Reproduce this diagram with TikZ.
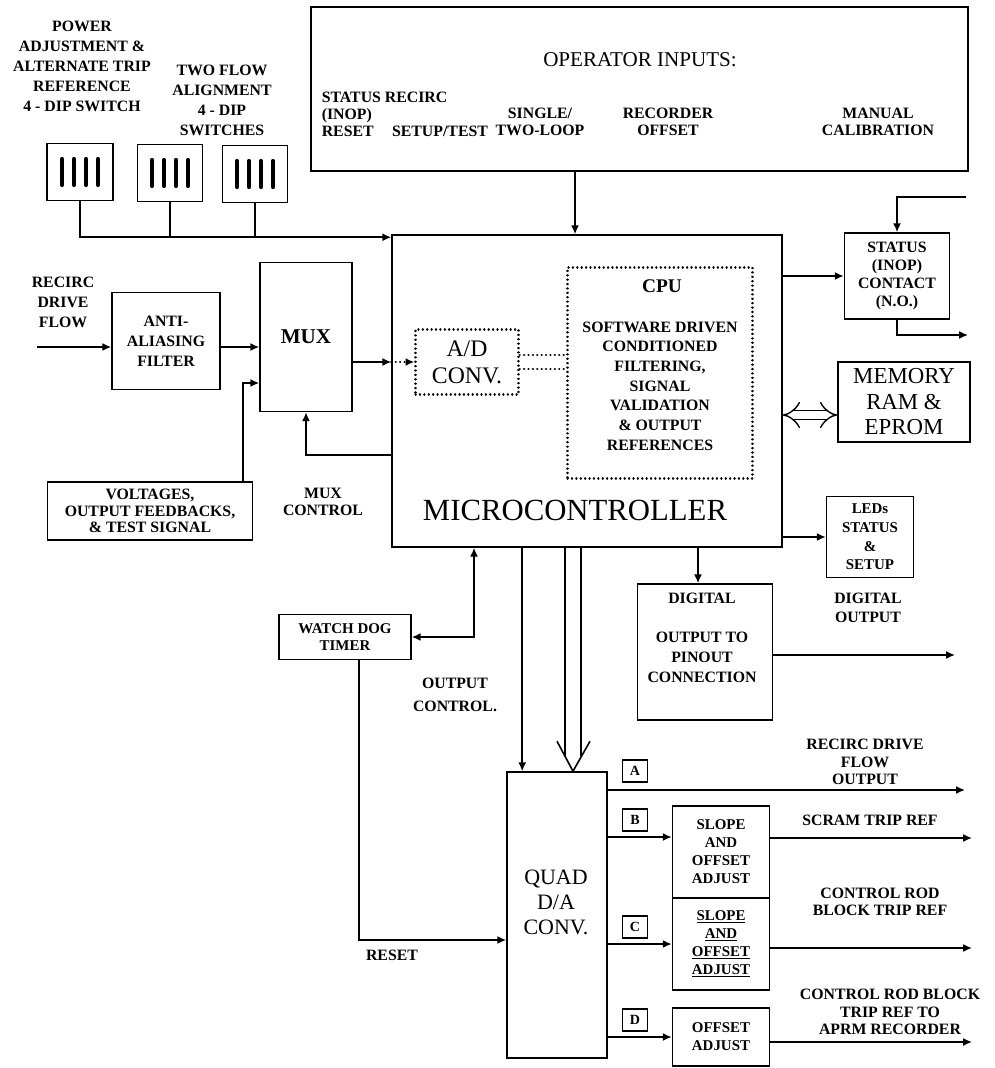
\documentclass[tikz,border=0pt]{standalone}
\usepackage{fontspec}
\setmainfont{Liberation Serif}
\usetikzlibrary{arrows.meta}

\begin{document}
\begin{tikzpicture}[
        x=.02cm, y=-.02cm,
        line width=.9pt,
        >={Latex[length=5pt, width=4.5pt]},
        box/.style={draw, line width=.9pt, inner sep=0pt, align=center},
        dotbox/.style={draw, line width=1.3pt, dash pattern=on .1pt off 2.4pt, line cap=round, inner sep=0pt, align=center},
        dotl/.style={line width=1.3pt, dash pattern=on .1pt off 2.4pt, line cap=round},
        lbl/.style={font=\fontsize{9}{11.4}\selectfont\bfseries, align=center, inner sep=0pt},
        big/.style={font=\fontsize{13}{14.5}\selectfont, align=center, inner sep=0pt},
        tag/.style={draw, line width=.9pt, minimum width=.5cm, minimum height=.44cm, inner sep=0pt, font=\fontsize{8}{9}\selectfont\bfseries},
        membus/.style={double, double distance=4.5pt, line width=.8pt, Implies-Implies},
    ]
    \useasboundingbox (0,0) rectangle (994,1068);

    %% dip switches and their labels
    \node[lbl] (pwrlbl) at (82,66) {POWER\\ADJUSTMENT \&\\ALTERNATE TRIP\\REFERENCE\\4 - DIP SWITCH};
    \node[lbl] (flowlbl) at (222,100) {TWO FLOW\\ALIGNMENT\\4 - DIP\\SWITCHES};
    \node[box, minimum width=1.32cm, minimum height=1.14cm] (dipa) at (80,172) {};
    \node[box, minimum width=1.3cm, minimum height=1.14cm] (dipb) at (170,173) {};
    \node[box, minimum width=1.3cm, minimum height=1.14cm] (dipc) at (255,174) {};
    \foreach \d in {dipa,dipb,dipc}{
        \foreach \k in {-1.5,-.5,.5,1.5}{
            \draw[line width=2.4pt, line cap=round] ([shift={(\k*.24cm,.26cm)}]\d.center) -- ++(0,-.52cm);
        }
    }

    %% operator inputs
    \node[box, minimum width=13.14cm, minimum height=3.28cm] (opin) at (639.5,89) {};
    \node[font=\fontsize{12}{14}\selectfont, inner sep=0pt] (optitle) at (640,60) {OPERATOR INPUTS:};
    \node[lbl, align=left, anchor=west, font=\fontsize{9}{9.7}\selectfont\bfseries] (opstat) at (321,114) {STATUS RECIRC\\(INOP)\\RESET};
    \node[lbl] (optest) at (440,131) {SETUP/TEST};
    \node[lbl, font=\fontsize{9}{9.7}\selectfont\bfseries] (oploop) at (540,122) {SINGLE/\\TWO-LOOP};
    \node[lbl, font=\fontsize{9}{9.7}\selectfont\bfseries] (oprec) at (668,122) {RECORDER\\OFFSET};
    \node[lbl, font=\fontsize{9}{9.7}\selectfont\bfseries] (opman) at (878,122) {MANUAL\\CALIBRATION};

    %% microcontroller with cpu and a/d
    \node[box, minimum width=7.8cm, minimum height=6.24cm] (mc) at (587,391) {};
    \node[font=\fontsize{17.5}{20}\selectfont, inner sep=0pt] (mclbl) at (575,510) {MICROCONTROLLER};
    \node[dotbox, minimum width=3.7cm, minimum height=4.22cm] (cpu) at (660,373) {};
    \node[font=\fontsize{11}{13}\selectfont\bfseries, inner sep=0pt] (cpulbl) at (662,286) {CPU};
    \node[lbl, font=\fontsize{9}{11.2}\selectfont\bfseries] (cpusw) at (660,386) {SOFTWARE DRIVEN\\CONDITIONED\\FILTERING,\\SIGNAL\\VALIDATION\\\& OUTPUT\\REFERENCES};
    \node[dotbox, big, font=\fontsize{13.5}{15.3}\selectfont, minimum width=2.06cm, minimum height=1.3cm] (ad) at (467,362) {A/D\\CONV.};
    \draw[dotl] ([yshift=.14cm]ad.east) -- ([yshift=.14cm]ad.east -| cpu.west);
    \draw[dotl] ([yshift=-.14cm]ad.east) -- ([yshift=-.14cm]ad.east -| cpu.west);
    \draw[dotl, ->] (ad.west -| mc.west) -- (ad.west);

    %% input side
    \node[box, minimum width=1.84cm, minimum height=2.98cm, font=\fontsize{12}{14}\selectfont\bfseries] (mux) at (306,337) {MUX};
    \node[box, lbl, minimum width=2.16cm, minimum height=1.94cm] (aa) at (166,341) {ANTI-\\ALIASING\\FILTER};
    \node[lbl] (flowin) at (63,302) {RECIRC\\DRIVE\\FLOW};
    \coordinate (flowsrc) at (37,347);
    \draw[->] (flowsrc) -- (flowsrc -| aa.west);
    \draw[->] ([yshift=-.12cm]aa.east) -- ([yshift=-.12cm]aa.east -| mux.west);
    \draw[->] (ad.west -| mux.east) -- (ad.west -| mc.west);
    \node[box, lbl, font=\fontsize{9}{9.2}\selectfont\bfseries, minimum width=4.1cm, minimum height=1.16cm] (volt) at (150,511) {VOLTAGES,\\OUTPUT FEEDBACKS,\\\& TEST SIGNAL};
    \coordinate (vtap) at (243,383);
    \draw[->] (vtap |- volt.north) |- (vtap -| mux.west);
    \coordinate (muxc) at (303,455);
    \draw[->] (muxc -| mc.west) -| (mux.south);
    \node[lbl, font=\fontsize{9}{9.7}\selectfont\bfseries] (muxclbl) at (323,502) {MUX\\CONTROL};

    %% switch bus and operator link
    \coordinate (busend) at ([yshift=-.06cm]mc.north west);
    \draw[->] (dipa.south) |- (busend);
    \draw (dipb.south) -- (dipb.south |- busend);
    \draw (dipc.south) -- (dipc.south |- busend);
    \draw[->] ([xshift=-.24cm]mc.north |- opin.south) -- ([xshift=-.24cm]mc.north);

    %% status, memory, leds
    \node[box, lbl, font=\fontsize{9}{10.2}\selectfont\bfseries, minimum width=2.1cm, minimum height=1.72cm] (stat) at (897,276) {STATUS\\(INOP)\\CONTACT\\(N.O.)};
    \coordinate (statsrc) at (966,197);
    \draw[->] (statsrc) -| (stat.north);
    \coordinate (statout) at (968,335);
    \draw[->] (stat.south) |- (statout);
    \draw[->] (stat.west -| mc.east) -- (stat.west);
    \node[box, big, minimum width=2.64cm, minimum height=1.6cm] (mem) at (904,402) {MEMORY\\RAM \&\\EPROM};
    \draw[membus] ([yshift=-.26cm]mem.west -| mc.east) -- ([yshift=-.26cm]mem.west);
    \node[box, lbl, font=\fontsize{8.5}{10.6}\selectfont\bfseries, minimum width=1.74cm, minimum height=1.62cm] (led) at (870,537) {LEDs\\STATUS\\\&\\SETUP};
    \draw[->] (led.west -| mc.east) -- (led.west);
    \node[lbl, font=\fontsize{9}{10.8}\selectfont\bfseries] (digolbl) at (868,608) {DIGITAL\\OUTPUT};

    %% digital output to pinout
    \node[box, minimum width=2.7cm, minimum height=2.72cm] (dig) at (705,652) {};
    \node[lbl] (diglbl) at (702,598) {DIGITAL};
    \node[lbl] (digtxt) at (702,657) {OUTPUT TO\\PINOUT\\CONNECTION};
    \draw[->] ([xshift=-.14cm]dig.north |- mc.south) -- ([xshift=-.14cm]dig.north);
    \coordinate (digend) at (955,655);
    \draw[->] (digend -| dig.east) -- (digend);

    %% watch dog
    \node[box, lbl, font=\fontsize{8.5}{10}\selectfont\bfseries, minimum width=2.64cm, minimum height=.9cm] (wd) at (345,637) {WATCH DOG\\TIMER};
    \draw[<->] (wd.east) -| ([xshift=-2.26cm]mc.south);
    \node[lbl, font=\fontsize{9}{13.5}\selectfont\bfseries] (outctl) at (455,695) {OUTPUT\\CONTROL.};

    %% quad d/a
    \node[box, minimum width=2cm, minimum height=5.72cm] (quad) at (557,915) {};
    \node[font=\fontsize{12.5}{14.2}\selectfont, align=center, inner sep=0pt] (quadlbl) at (556,902) {QUAD\\D/A\\CONV.};
    \draw[->] ([xshift=.32cm]quad.north west |- mc.south) -- ([xshift=.32cm]quad.north west);
    \coordinate (bustip) at ([xshift=.32cm]quad.north);
    \draw ([xshift=-.16cm]bustip |- mc.south) -- ([shift={(-.16cm,.3cm)}]bustip);
    \draw ([xshift=.16cm]bustip |- mc.south) -- ([shift={(.16cm,.3cm)}]bustip);
    \draw ([shift={(-.32cm,.6cm)}]bustip) -- (bustip) -- ([shift={(.34cm,.6cm)}]bustip);
    \draw[->] ([xshift=.28cm]wd.south) |- ([yshift=-.5cm]quad.west);
    \node[lbl] (rstlbl) at (392,955) {RESET};

    %% analog outputs A to D
    \node[tag] (taga) at (635,771) {A};
    \node[tag] (tagb) at (635,820) {B};
    \node[tag] (tagc) at (635,927) {C};
    \node[tag] (tagd) at (635,1020) {D};
    \coordinate (aend) at (965,790);
    \draw[->] (aend -| quad.east) -- (aend);
    \node[lbl, font=\fontsize{9}{10}\selectfont\bfseries] (alb) at (865,762) {RECIRC DRIVE\\FLOW\\OUTPUT};

    \node[box, lbl, font=\fontsize{8.5}{10.2}\selectfont\bfseries, minimum width=1.94cm, minimum height=1.84cm] (slpb) at (721,852) {SLOPE\\AND\\OFFSET\\ADJUST};
    \draw[->] ([yshift=.3cm]slpb.west -| quad.east) -- ([yshift=.3cm]slpb.west);
    \coordinate (bend) at (972,838);
    \draw[->] (bend -| slpb.east) -- (bend);
    \node[lbl] (blb) at (870,820) {SCRAM TRIP REF};

    \node[box, lbl, font=\fontsize{8.5}{10.2}\selectfont\bfseries, minimum width=1.94cm, minimum height=1.84cm] (slpc) at (721,944) {\underline{SLOPE}\\\underline{AND}\\\underline{OFFSET}\\\underline{ADJUST}};
    \draw[->] (slpc.west -| quad.east) -- (slpc.west);
    \coordinate (cend) at (972,948);
    \draw[->] (cend -| slpc.east) -- (cend);
    \node[lbl, font=\fontsize{9}{10}\selectfont\bfseries] (clb) at (880,902) {CONTROL ROD\\BLOCK TRIP REF};

    \node[box, lbl, font=\fontsize{8.5}{10.2}\selectfont\bfseries, minimum width=1.94cm, minimum height=1.16cm] (offd) at (721,1037) {OFFSET\\ADJUST};
    \draw[->] (offd.west -| quad.east) -- (offd.west);
    \coordinate (dend) at (972,1042);
    \draw[->] (dend -| offd.east) -- (dend);
    \node[lbl, font=\fontsize{9}{10}\selectfont\bfseries] (dlb) at (890,1012) {CONTROL ROD BLOCK\\TRIP REF TO\\APRM RECORDER};
\end{tikzpicture}
\end{document}
